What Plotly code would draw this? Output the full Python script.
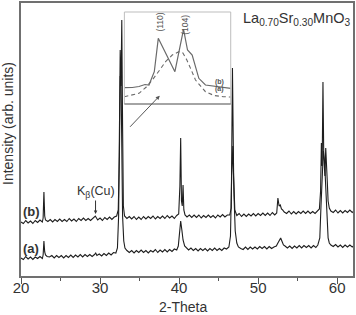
import plotly.graph_objects as go

# ---- main pattern (b) : 2-theta, intensity (arb.)
b_x = [20.0, 20.3, 20.6, 20.9, 21.2, 21.5, 21.8, 22.1, 22.4, 22.7, 22.8, 22.9, 23.0, 23.1, 23.4, 23.7,
       24.0, 24.3, 24.6, 24.9, 25.2, 25.5, 25.8, 26.1, 26.4, 26.7, 27.0, 27.3, 27.6, 27.9, 28.2, 28.5,
       28.8, 29.1, 29.4, 29.7, 30.0, 30.3, 30.6, 30.9, 31.2, 31.5, 31.8, 32.1, 32.3, 32.45, 32.55, 32.65,
       32.75, 32.85, 32.95, 33.1, 33.4, 33.7, 34.0, 34.3, 34.6, 34.9, 35.2, 35.5, 35.8, 36.1, 36.4, 36.7,
       37.0, 37.3, 37.6, 37.9, 38.2, 38.5, 38.8, 39.1, 39.4, 39.7, 39.95, 40.1, 40.2, 40.3, 40.4, 40.5,
       40.6, 40.75, 41.0, 41.3, 41.6, 41.9, 42.2, 42.5, 42.8, 43.1, 43.4, 43.7, 44.0, 44.3, 44.6, 44.9,
       45.2, 45.5, 45.8, 46.1, 46.4, 46.6, 46.75, 46.9, 47.05, 47.3, 47.6, 47.9, 48.2, 48.5, 48.8, 49.1,
       49.4, 49.7, 50.0, 50.3, 50.6, 50.9, 51.2, 51.5, 51.8, 52.1, 52.35, 52.5, 52.65, 52.8, 52.95, 53.1,
       53.3, 53.6, 53.9, 54.2, 54.5, 54.8, 55.1, 55.4, 55.7, 56.0, 56.3, 56.6, 56.9, 57.2, 57.5, 57.75,
       57.9, 58.0, 58.1, 58.2, 58.3, 58.45, 58.55, 58.65, 58.75, 58.85, 59.0, 59.2, 59.5, 59.8, 60.1, 60.4,
       60.7, 61.0, 61.3, 61.6, 61.9, 62.0]
b_y = [54, 52.5, 55.5, 53, 55, 52.5, 55.5, 53.5, 56, 54, 58, 84, 60, 56, 54.5, 56.5,
       54, 56.5, 54.5, 57, 54.5, 56.5, 54.5, 57.5, 55, 57, 54.5, 57.5, 55.5, 58, 55.5, 57.5,
       55.5, 58, 60, 56, 58, 55.5, 58.5, 56.5, 59, 56.5, 59, 60, 66, 120, 200, 190,
       256, 150, 70, 60, 57.5, 59.5, 57, 59.5, 56.5, 59, 56.5, 59.5, 57, 59.5, 57.5, 60,
       57, 59.5, 57.5, 60, 57.5, 60.5, 58, 60, 57.5, 60.5, 62, 90, 138, 75, 70, 91,
       66, 61, 59, 61, 58.5, 61, 58.5, 61, 58, 60.5, 58.5, 61, 58.5, 60.5, 58, 61,
       59, 61.5, 59, 61, 61, 68, 208, 100, 66, 60.5, 62.5, 59.5, 62, 59.5, 62, 60,
       62.5, 60, 62.5, 60.5, 63, 60.5, 63, 60.5, 63.5, 61, 63, 78, 70, 71, 67, 66,
       64, 62.5, 65, 62, 64.5, 62, 64.5, 62.5, 65, 62.5, 65, 62.5, 64.5, 62.5, 65, 67,
       85, 133, 110, 194, 120, 100, 128, 100, 94, 75, 68, 65, 63.5, 66, 63, 65.5,
       63, 65.5, 63.5, 66, 63.5, 64.5]

# ---- main pattern (a)
a_x = [20.0, 20.3, 20.6, 20.9, 21.2, 21.5, 21.8, 22.1, 22.4, 22.7, 22.8, 22.9, 23.0, 23.1, 23.3, 23.6,
       23.9, 24.2, 24.5, 24.8, 25.1, 25.4, 25.7, 26.0, 26.3, 26.6, 26.9, 27.2, 27.5, 27.8, 28.1, 28.4,
       28.7, 29.0, 29.3, 29.45, 29.6, 29.9, 30.2, 30.5, 30.8, 31.1, 31.4, 31.7, 32.0, 32.2, 32.35, 32.45,
       32.55, 32.65, 32.75, 32.85, 33.0, 33.15, 33.4, 33.7, 34.0, 34.3, 34.6, 34.9, 35.2, 35.5, 35.8, 36.1,
       36.4, 36.7, 37.0, 37.3, 37.6, 37.9, 38.2, 38.5, 38.8, 39.1, 39.4, 39.7, 39.9, 40.05, 40.2, 40.35,
       40.5, 40.7, 40.9, 41.2, 41.5, 41.8, 42.1, 42.4, 42.7, 43.0, 43.3, 43.6, 43.9, 44.2, 44.5, 44.8,
       45.1, 45.4, 45.7, 46.0, 46.3, 46.5, 46.65, 46.8, 46.95, 47.1, 47.3, 47.5, 47.8, 48.1, 48.4, 48.7,
       49.0, 49.3, 49.6, 49.9, 50.2, 50.5, 50.8, 51.1, 51.4, 51.7, 52.0, 52.3, 52.5, 52.7, 52.85, 53.0,
       53.2, 53.4, 53.7, 54.0, 54.3, 54.6, 54.9, 55.2, 55.5, 55.8, 56.1, 56.4, 56.7, 57.0, 57.3, 57.55,
       57.8, 57.95, 58.1, 58.25, 58.4, 58.55, 58.7, 58.85, 59.0, 59.2, 59.5, 59.8, 60.1, 60.4, 60.7, 61.0,
       61.3, 61.6, 61.9, 62.0]
a_y = [18, 16.5, 19.5, 17, 19, 16.5, 19, 17.5, 19.5, 17.5, 21, 35, 24, 21, 19.5, 19,
       20.5, 18, 20.5, 18.5, 20.5, 18, 20.5, 18.5, 21, 18.5, 21, 19, 21.5, 19, 21.5, 19.5,
       21.5, 19.5, 21.5, 23, 20.5, 22, 20, 22.5, 20.5, 23, 21, 23.5, 23, 28, 60, 140,
       226, 200, 130, 60, 35, 28, 25.5, 23.5, 25.5, 23, 25.5, 23.5, 26, 23.5, 25.5, 23,
       25.5, 24, 26.5, 23.5, 26, 24, 26.5, 24, 26.5, 24.5, 27, 26, 30, 45, 55, 46,
       36, 30, 28, 26, 28, 25.5, 27.5, 25, 27.5, 25.5, 27.5, 25, 27.5, 25.5, 28, 25.5,
       27.5, 25.5, 28, 27, 29, 40, 100, 130, 80, 45, 33, 29, 27.5, 26.5, 29, 26.5,
       29, 27, 29, 27, 29.5, 27.5, 29.5, 27, 29.5, 27.5, 29, 30, 33, 37, 38, 35,
       31, 30, 28, 30, 27.5, 30, 28, 30.5, 28, 30.5, 28.5, 30.5, 28, 30.5, 28.5, 31,
       38, 70, 110, 125, 115, 85, 55, 38, 33, 31, 29.5, 31.5, 29, 31, 28.5, 31,
       29, 31, 29, 30]

# ---- inset: zoom of the (110)/(104) doublet
inset_b_x = [31.90, 32.02, 32.12, 32.21, 32.27, 32.35, 32.41, 32.66, 32.79, 32.85, 32.92, 33.02,
             33.12, 33.25, 33.39, 33.50]
inset_b_y = [16.3, 16.5, 17.5, 19.5, 19, 32.3, 65.7, 32.3, 74.7, 54, 49, 25.7, 19, 18, 16.5, 15.7]
inset_a_x = [31.90, 32.02, 32.12, 32.23, 32.32, 32.42, 32.52, 32.62, 32.72, 32.78, 32.84, 32.90,
             32.97, 33.12, 33.25, 33.39, 33.50]
inset_a_y = [7.3, 9, 10.7, 17, 24, 33, 42.3, 49, 52.3, 51, 44, 35, 24, 12.3, 8.5, 7.3, 7]

x_ticks = [20, 30, 40, 50, 60]
x_tick_labels = ["20", "30", "40", "50", "60"]

FONT = "Liberation Sans, Arial, sans-serif"
LINE = "#1e1e1e"

fig = go.Figure()
fig.add_trace(go.Scatter(x=b_x, y=b_y, mode="lines", line=dict(color=LINE, width=1.1),
                         showlegend=False, hoverinfo="skip"))
fig.add_trace(go.Scatter(x=a_x, y=a_y, mode="lines", line=dict(color=LINE, width=1.1),
                         showlegend=False, hoverinfo="skip"))
fig.add_trace(go.Scatter(x=inset_b_x, y=inset_b_y, mode="lines", xaxis="x2", yaxis="y2",
                         line=dict(color="#6a6a6a", width=1.2), showlegend=False, hoverinfo="skip"))
fig.add_trace(go.Scatter(x=inset_a_x, y=inset_a_y, mode="lines", xaxis="x2", yaxis="y2",
                         line=dict(color="#6a6a6a", width=1.1, dash="4px,3px"), showlegend=False,
                         hoverinfo="skip"))

ix0, ix1 = 0.3114, 0.6317
iy0, iy1 = 0.630, 0.967

fig.update_layout(
    width=356, height=315,
    margin=dict(l=21, r=1, t=3, b=39),
    paper_bgcolor="white", plot_bgcolor="white",
    font=dict(family=FONT, color="#333333"),
    xaxis=dict(range=[20, 62], tickmode="array", tickvals=x_ticks, ticktext=x_tick_labels,
               ticks="outside", ticklen=6, tickwidth=1, tickcolor="#555555",
               ticklabelstandoff=-9,
               minor=dict(dtick=5, tick0=20, ticks="outside", ticklen=3, tickcolor="#555555"),
               showgrid=False, zeroline=False, showline=True, linecolor="#707070", linewidth=1.5,
               mirror=True, tickfont=dict(size=15, color="#333333")),
    yaxis=dict(range=[0, 273], showticklabels=False, ticks="", showgrid=False, zeroline=False,
               showline=True, linecolor="#707070", linewidth=1.5, mirror=True),
    xaxis2=dict(domain=[ix0, ix1], anchor="y2", range=[31.9, 33.5], showticklabels=False,
                ticks="", showgrid=False, zeroline=False, showline=False),
    yaxis2=dict(domain=[iy0, iy1], anchor="x2", range=[0, 92], showticklabels=False,
                ticks="", showgrid=False, zeroline=False, showline=False),
    shapes=[
        dict(type="rect", xref="paper", yref="paper", x0=ix0, x1=ix1, y0=iy0, y1=iy1,
             line=dict(color="#bdbdbd", width=1)),
        dict(type="line", xref="paper", yref="paper", x0=ix0, x1=ix1, y0=iy0, y1=iy0,
             line=dict(color="#6a6a6a", width=1.2)),
    ],
)

ann = []
ann.append(dict(text="Intensity (arb. units)", xref="paper", yref="paper", x=-0.039, y=0.557,
                textangle=-90, showarrow=False, xanchor="center", yanchor="middle",
                font=dict(size=14, color="#333333", family=FONT)))
ann.append(dict(text="2-Theta", xref="paper", yref="paper", x=0.488, y=-0.1136,
                showarrow=False, xanchor="center", yanchor="middle",
                font=dict(size=14, color="#333333", family=FONT)))
ann.append(dict(text="La<sub>0.70</sub>Sr<sub>0.30</sub>MnO<sub>3</sub>", xref="paper",
                yref="paper", x=0.999, y=0.941, showarrow=False, xanchor="right",
                yanchor="middle", font=dict(size=14.5, color="#333333", family=FONT)))
ann.append(dict(text="<b>(b)</b>", x=21.32, y=64.3, xref="x", yref="y", showarrow=False,
                xanchor="center", yanchor="middle", font=dict(size=13, color="#333333", family=FONT)))
ann.append(dict(text="<b>(a)</b>", x=21.32, y=27.7, xref="x", yref="y", showarrow=False,
                xanchor="center", yanchor="middle", font=dict(size=13, color="#333333", family=FONT)))
ann.append(dict(text="K<sub>β</sub>(Cu)", x=29.52, y=84.3, xref="x", yref="y", showarrow=False,
                xanchor="center", yanchor="middle", font=dict(size=12.5, color="#333333", family=FONT)))
ann.append(dict(text="", x=29.43, y=62, ax=29.43, ay=77, xref="x", yref="y", axref="x", ayref="y",
                showarrow=True, arrowhead=2, arrowsize=0.7, arrowwidth=1, arrowcolor="#333333"))
ann.append(dict(text="", x=37.55, y=180.3, ax=33.62, ay=147.7, xref="x", yref="y", axref="x",
                ayref="y", showarrow=True, arrowhead=2, arrowsize=0.8, arrowwidth=1,
                arrowcolor="#555555"))
ann.append(dict(text="(110)", x=32.43, y=82, xref="x2", yref="y2", showarrow=False, textangle=-90,
                xanchor="center", yanchor="middle", font=dict(size=8.5, color="#555555", family=FONT)))
ann.append(dict(text="(104)", x=32.81, y=79, xref="x2", yref="y2", showarrow=False, textangle=-90,
                xanchor="center", yanchor="middle", font=dict(size=8.5, color="#555555", family=FONT)))
ann.append(dict(text="<b>(b)</b>", x=33.33, y=22.3, xref="x2", yref="y2", showarrow=False,
                xanchor="center", yanchor="middle", font=dict(size=7, color="#555555", family=FONT)))
ann.append(dict(text="<b>(a)</b>", x=33.33, y=15.2, xref="x2", yref="y2", showarrow=False,
                xanchor="center", yanchor="middle", font=dict(size=7, color="#555555", family=FONT)))
fig.update_layout(annotations=ann)

fig.write_html("out.html")
